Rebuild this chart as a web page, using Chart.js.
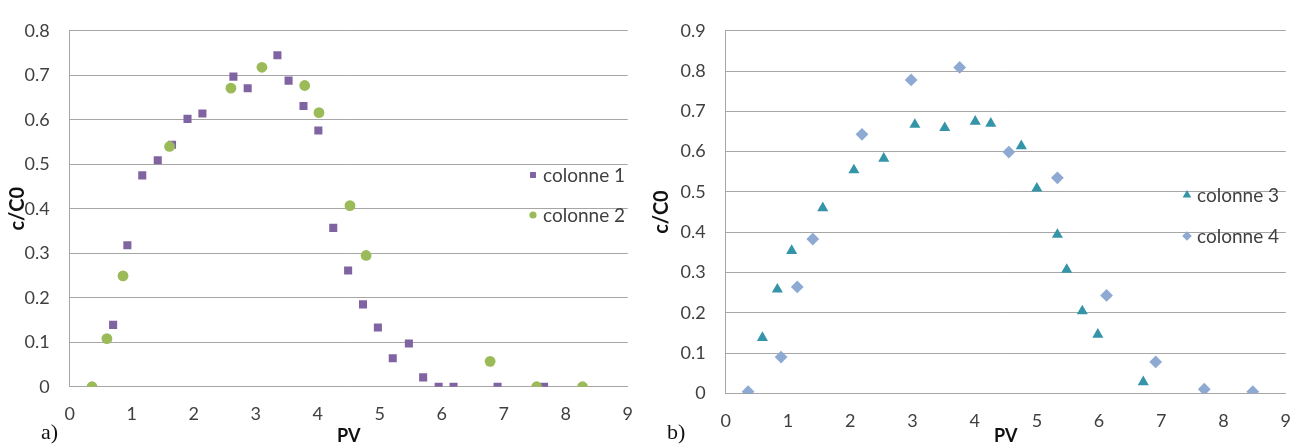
<!DOCTYPE html>
<html>
<head>
<meta charset="utf-8">
<script src="https://cdn.jsdelivr.net/npm/chart.js"></script>
<style>
  body { margin: 0; background: #fff; }
  #wrap { position: relative; width: 1308px; height: 448px; overflow: hidden; }
  canvas { position: absolute; top: 0; }
  .tag { position: absolute; font-family: "Liberation Serif", serif; font-size: 22px; color: #111; line-height: 1; }
</style>
</head>
<body>
<div id="wrap">
  <canvas id="chartA" width="650" height="448" style="left:0"></canvas>
  <canvas id="chartB" width="658" height="448" style="left:650px"></canvas>
  <div class="tag" style="left:41px; top:421px">a)</div>
  <div class="tag" style="left:667px; top:421px">b)</div>
</div>
<script>
// left chart
const pv1 = [0.70, 0.93, 1.17, 1.42, 1.65, 1.90, 2.14, 2.64, 2.87, 3.35, 3.53, 3.77, 4.01, 4.25, 4.49, 4.73, 4.97, 5.21, 5.47, 5.70, 5.95, 6.19, 6.90, 7.65];
const col1 = [0.139, 0.318, 0.475, 0.509, 0.544, 0.602, 0.614, 0.697, 0.671, 0.745, 0.688, 0.631, 0.576, 0.357, 0.261, 0.185, 0.133, 0.064, 0.097, 0.021, 0, 0, 0, 0];
const pv2 = [0.36, 0.60, 0.86, 1.61, 2.60, 3.10, 3.79, 4.02, 4.52, 4.78, 6.78, 7.53, 8.27];
const col2 = [0, 0.108, 0.249, 0.540, 0.671, 0.718, 0.677, 0.616, 0.407, 0.295, 0.057, 0, 0];

// right chart
const pv3 = [0.35, 0.59, 0.83, 1.06, 1.56, 2.06, 2.54, 3.04, 3.52, 4.01, 4.26, 4.75, 5.00, 5.33, 5.48, 5.73, 5.98, 6.71];
const col3 = [0, 0.138, 0.258, 0.354, 0.460, 0.554, 0.583, 0.667, 0.659, 0.675, 0.670, 0.614, 0.509, 0.394, 0.307, 0.204, 0.146, 0.028];
const pv4 = [0.36, 0.89, 1.15, 1.40, 2.19, 2.98, 3.76, 4.55, 5.33, 6.12, 6.91, 7.69, 8.47];
const col4 = [0.004, 0.090, 0.264, 0.383, 0.643, 0.778, 0.809, 0.599, 0.535, 0.243, 0.078, 0.010, 0.004];

const xTicks = [0, 1, 2, 3, 4, 5, 6, 7, 8, 9];

const gridGray = "#a6a6a6";
const tickFont = { family: "Lato", size: 18 };
const xTitleFont = { family: "Lato", size: 18, weight: "bold" };
const yTitleFont = { family: "Lato", size: 20, weight: "bold" };

const toPoints = (xs, ys) => xs.map((x, i) => ({ x: x, y: ys[i] }));

// legend drawn inside the plot, like the spreadsheet one
const sideLegend = {
  id: "sideLegend",
  afterDraw(chart, args, opts) {
    const ctx = chart.ctx;
    ctx.save();
    ctx.font = "19px Lato";
    ctx.textBaseline = "middle";
    opts.items.forEach((it) => {
      const ds = chart.data.datasets[it.ds];
      ctx.fillStyle = ds.backgroundColor;
      Chart.helpers.drawPoint(ctx, { pointStyle: ds.pointStyle, radius: it.r, borderWidth: 0, rotation: 0 }, opts.x, it.y);
      ctx.fillStyle = "#404040";
      ctx.fillText(ds.label, opts.x + 10, it.y + 1);
    });
    ctx.restore();
  }
};

function makeOptions(yMax, areaLeft, areaBottomGap, rightPad, titleOffset, legend) {
  return {
    responsive: false,
    animation: false,
    events: [],
    layout: { padding: { left: 0, top: 19, right: rightPad, bottom: 0 } },
    plugins: {
      legend: { display: false },
      tooltip: { enabled: false },
      sideLegend: legend
    },
    scales: {
      x: {
        type: "linear",
        min: 0,
        max: 9,
        afterFit: (s) => { s.height = areaBottomGap; },
        afterBuildTicks: (s) => { s.ticks = xTicks.map((v) => ({ value: v })); },
        grid: { display: false, drawTicks: false },
        border: { display: true, color: gridGray },
        ticks: { font: tickFont, color: "#404040", padding: 17, maxRotation: 0 },
        title: { display: true, text: "PV", font: xTitleFont, color: "#111", padding: { top: 0, bottom: 1 } }
      },
      y: {
        min: 0,
        max: yMax,
        afterFit: (s) => { s.width = areaLeft; },
        grid: { color: gridGray, drawTicks: false },
        border: { display: true, color: gridGray },
        ticks: {
          stepSize: 0.1,
          font: tickFont,
          color: "#404040",
          padding: 20,
          callback: (v) => String(+v.toFixed(1))
        },
        title: { display: true, text: "c/C0", font: yTitleFont, color: "#111", padding: { top: titleOffset, bottom: 0 } }
      }
    }
  };
}

new Chart(document.getElementById("chartA"), {
  type: "scatter",
  data: {
    datasets: [
      {
        label: "colonne 1",
        data: toPoints(pv1, col1),
        pointStyle: "rect",
        pointRadius: 5.7,
        backgroundColor: "#8064a2",
        borderWidth: 0,
        order: 1
      },
      {
        label: "colonne 2",
        data: toPoints(pv2, col2),
        pointStyle: "circle",
        pointRadius: 5.4,
        backgroundColor: "#9bbb59",
        borderWidth: 0,
        order: 0
      }
    ]
  },
  options: makeOptions(0.8, 69.7, 61.3, 15.7, 5.5, {
    x: 533,
    items: [{ ds: 0, y: 175, r: 4.2 }, { ds: 1, y: 215, r: 3.6 }]
  }),
  plugins: [sideLegend]
});

new Chart(document.getElementById("chartB"), {
  type: "scatter",
  data: {
    datasets: [
      {
        label: "colonne 3",
        data: toPoints(pv3, col3),
        pointStyle: "triangle",
        pointRadius: 6.4,
        backgroundColor: "#3494a8",
        borderWidth: 0,
        order: 1
      },
      {
        label: "colonne 4",
        data: toPoints(pv4, col4),
        pointStyle: "rectRot",
        pointRadius: 6.4,
        backgroundColor: "#8eaad2",
        borderWidth: 0,
        order: 0
      }
    ]
  },
  options: makeOptions(0.9, 75.7, 54.7, 18.7, 0, {
    x: 537,
    items: [{ ds: 0, y: 195, r: 5 }, { ds: 1, y: 236, r: 4.8 }]
  }),
  plugins: [sideLegend]
});
</script>
</body>
</html>
